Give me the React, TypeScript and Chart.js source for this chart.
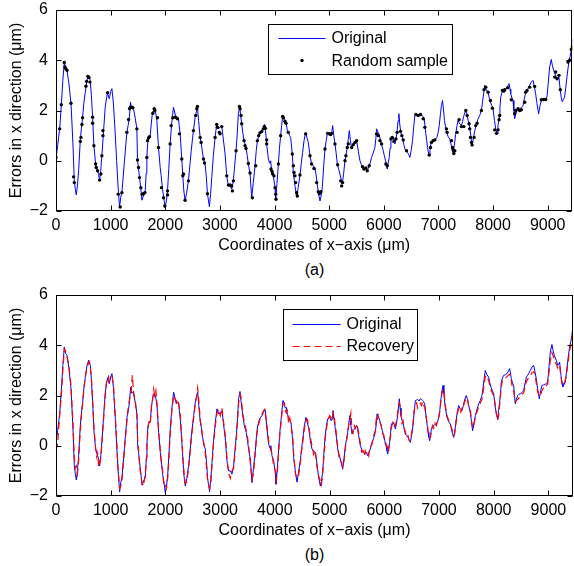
import React, { useEffect, useRef } from "react";
import { Chart, registerables } from "chart.js";

Chart.register(...registerables);

// ---------------- data ----------------
const X_ORIG = [
  0, 30, 67, 97, 125, 152, 176, 201, 235, 274,
  292, 310, 335, 352, 371, 392, 414, 444, 465, 487,
  510, 536, 566, 597, 612, 627, 648, 670, 694, 725,
  745, 761, 780, 798, 818, 840, 871, 901, 925, 944,
  960, 974, 1000, 1023, 1050, 1084, 1110, 1135, 1163, 1185,
  1206, 1250, 1297, 1320, 1340, 1364, 1380, 1395, 1420, 1450,
  1480, 1492, 1510, 1529, 1553, 1572, 1600, 1632, 1650, 1663,
  1681, 1700, 1724, 1745, 1766, 1785, 1803, 1825, 1846, 1876,
  1907, 1925, 1949, 1975, 1998, 2020, 2041, 2065, 2089, 2114,
  2150, 2175, 2199, 2220, 2242, 2255, 2272, 2302, 2321, 2340,
  2363, 2390, 2424, 2450, 2475, 2500, 2516, 2546, 2570, 2589,
  2610, 2638, 2656, 2680, 2699, 2729, 2750, 2772, 2808, 2830,
  2851, 2880, 2912, 2942, 2973, 3003, 3034, 3060, 3095, 3125,
  3155, 3186, 3216, 3247, 3270, 3296, 3318, 3338, 3363, 3380,
  3399, 3420, 3442, 3478, 3500, 3521, 3552, 3582, 3610, 3643,
  3665, 3686, 3722, 3765, 3795, 3815, 3826, 3856, 3887, 3910,
  3929, 3948, 3978, 4009, 4021, 4045, 4070, 4090, 4112, 4130,
  4149, 4173, 4190, 4210, 4230, 4252, 4275, 4295, 4325, 4344,
  4374, 4405, 4430, 4465, 4490, 4514, 4540, 4569, 4595, 4618,
  4649, 4679, 4710, 4740, 4759, 4780, 4801, 4832, 4852, 4874,
  4900, 4923, 4945, 4966, 5002, 5030, 5045, 5063, 5085, 5106,
  5128, 5149, 5175, 5197, 5220, 5240, 5265, 5289, 5310, 5331,
  5350, 5368, 5390, 5411, 5430, 5453, 5475, 5502, 5532, 5563,
  5590, 5612, 5634, 5654, 5675, 5697, 5715, 5733, 5755, 5776,
  5805, 5837, 5855, 5868, 5890, 5910, 5941, 5965, 5989, 6010,
  6032, 6050, 6063, 6080, 6099, 6115, 6130, 6150, 6172, 6203,
  6225, 6245, 6262, 6276, 6290, 6306, 6325, 6343, 6365, 6385,
  6410, 6434, 6455, 6477, 6500, 6526, 6545, 6568, 6590, 6611,
  6635, 6660, 6680, 6702, 6720, 6739, 6769, 6785, 6800, 6815,
  6830, 6845, 6861, 6880, 6903, 6925, 6952, 6975, 6995, 7015,
  7037, 7055, 7074, 7090, 7110, 7147, 7180, 7208, 7225, 7245,
  7269, 7290, 7315, 7340, 7360, 7380, 7400, 7421, 7440, 7460,
  7480, 7500, 7520, 7545, 7573, 7595, 7616, 7640, 7665, 7695,
  7725, 7755, 7786, 7805, 7825, 7847, 7870, 7908, 7930, 7951,
  7975, 8000, 8025, 8048, 8073, 8090, 8109, 8125, 8140, 8160,
  8182, 8210, 8243, 8265, 8292, 8310, 8323, 8345, 8365, 8380,
  8395, 8415, 8438, 8460, 8487, 8520, 8548, 8575, 8597, 8620,
  8639, 8670, 8700, 8731, 8755, 8779, 8804, 8834, 8860, 8883,
  8910, 8944, 8965, 8986, 9010, 9035, 9065, 9085, 9108, 9125,
  9145, 9169, 9188, 9205, 9230, 9250, 9266, 9290, 9309, 9330,
  9352, 9370, 9388, 9410, 9431, 9450,
];

const Y_ORIG = [
  0.1, 0.6, 1.27, 2.2, 3.2, 3.93, 3.67, 3.6, 3.1, 2.29,
  1.5, 0.67, -0.8, -1.1, -1.36, -1.0, -0.4, 0.8, 1.3, 1.73,
  2.3, 2.73, 3.2, 3.4, 3.3, 3.2, 2.6, 1.73, 0.6, -0.13,
  -0.3, -0.4, -0.55, -0.8, -0.4, 0.2, 1.2, 2.13, 2.5, 2.71,
  2.55, 2.47, 2.75, 2.87, 2.3, 1.07, 0.0, -1.0, -1.84, -1.45,
  -1.27, -0.1, 1.13, 1.4, 1.67, 2.33, 2.1, 2.13, 2.05, 1.7,
  1.27, 0.03, -0.3, -0.67, -1.13, -1.57, -1.4, -1.27, -0.5, 0.13,
  0.8, 0.9, 1.0, 1.5, 1.93, 2.0, 2.11, 1.9, 1.6, 0.53,
  -0.27, -0.6, -1.13, -1.5, -1.87, -1.6, -1.2, -0.3, 0.67, 1.4,
  2.13, 1.9, 1.67, 1.75, 1.67, 1.4, 1.07, 0.07, -0.6, -1.2,
  -1.6, -1.3, -0.8, -0.2, 0.4, 0.9, 1.2, 1.73, 1.95, 2.13,
  1.6, 0.93, 0.73, 0.35, 0.07, -0.13, -0.6, -1.31, -1.83, -1.3,
  -0.67, 0.2, 0.93, 1.47, 1.27, 1.33, 1.4, 0.9, 0.27, -0.6,
  -1.0, -1.0, -1.13, -0.8, -0.2, 0.4, 1.1, 1.87, 2.16, 1.8,
  1.47, 1.1, 0.8, 0.53, 0.2, -0.13, -0.53, -1.47, -0.9, -0.2,
  0.4, 0.8, 1.07, 1.2, 1.33, 1.45, 1.4, 0.67, 0.07, -0.1,
  0.0, -0.4, -0.6, -1.07, -1.53, -0.9, -0.13, 0.5, 1.0, 1.4,
  1.8, 1.67, 1.5, 1.53, 1.25, 1.13, 1.0, 0.93, 0.27, -0.47,
  -1.0, -1.45, -1.1, -0.6, -0.1, 0.33, 0.8, 1.13, 0.9, 0.73,
  0.2, -0.13, -0.2, -0.3, -0.53, -0.9, -1.27, -1.6, -1.4, -1.07,
  -0.2, 0.47, 0.8, 1.07, 1.13, 1.0, 1.07, 1.4, 1.0, 0.67,
  0.3, -0.13, -0.35, -0.53, -0.75, -0.93, -0.5, 0.0, 0.25, 0.53,
  0.85, 1.2, 0.8, 0.47, 0.6, 0.67, 0.75, 0.8, 0.4, 0.0,
  -0.15, -0.27, -0.3, -0.33, -0.25, -0.4, -0.3, -0.2, -0.05, 0.13,
  0.3, 0.53, 0.9, 1.27, 1.15, 1.07, 0.8, 0.6, 0.4, 0.2,
  0.0, -0.2, -0.33, -0.1, 0.13, 0.5, 0.87, 0.85, 0.93, 0.67,
  0.9, 1.2, 1.6, 1.87, 1.5, 1.2, 1.0, 0.93, 0.65, 0.47,
  0.4, 0.33, 0.25, 0.13, 0.4, 0.8, 1.3, 1.8, 1.82, 1.84,
  1.78, 1.87, 1.85, 1.8, 1.75, 1.67, 1.07, 0.8, 0.53, 0.35,
  0.2, 0.4, 0.67, 0.72, 0.8, 0.85, 0.87, 0.95, 1.13, 1.4,
  1.87, 2.2, 2.4, 2.1, 1.6, 1.13, 0.95, 0.87, 0.7, 0.5,
  0.33, 0.6, 1.05, 1.4, 1.6, 1.5, 1.45, 1.4, 1.55, 1.75,
  1.9, 2.0, 1.85, 1.6, 1.33, 0.95, 0.6, 0.9, 1.2, 1.45,
  1.67, 1.8, 2.0, 2.3, 2.65, 3.0, 2.85, 2.73, 2.5, 2.33,
  2.2, 2.07, 1.6, 1.27, 1.07, 1.4, 1.73, 2.1, 2.53, 2.7,
  2.8, 2.82, 2.87, 2.95, 3.07, 2.85, 2.67, 2.5, 2.4, 2.0,
  1.67, 1.85, 2.0, 2.05, 2.07, 2.12, 2.2, 2.5, 2.73, 2.8,
  2.87, 3.0, 3.13, 3.2, 2.95, 2.67, 2.27, 1.87, 2.2, 2.4,
  2.42, 2.44, 2.5, 2.53, 3.1, 3.73, 4.03, 3.8, 3.6, 3.5,
  3.4, 3.2, 3.25, 3.33, 2.8, 2.5, 2.35, 2.45, 2.53, 2.9,
  3.33, 3.65, 3.93, 4.15, 4.4, 4.85,
];

const Y_RECOVERY = [
  -0.2, 0.1, 1.2, 2.0, 3.0, 3.85, 3.75, 3.55, 3.2, 2.4,
  1.6, 0.9, -0.5, -0.9, -0.8, -1.1, -0.6, 0.6, 1.2, 1.7,
  2.25, 2.75, 3.1, 3.3, 3.35, 3.1, 2.7, 1.8, 0.7, -0.1,
  -0.45, -0.3, -0.85, -0.7, -0.5, 0.1, 1.1, 2.0, 2.6, 2.65,
  2.75, 2.55, 2.7, 2.75, 2.45, 1.2, 0.15, -0.9, -1.7, -1.6,
  -1.35, -0.2, 1.0, 1.5, 1.8, 2.1, 2.3, 2.8, 2.1, 1.8,
  1.1, 0.3, -0.2, -0.8, -1.25, -1.45, -1.6, -1.1, -0.7, 0.0,
  0.65, 1.0, 0.9, 1.6, 1.8, 2.25, 2.0, 2.2, 1.7, 0.6,
  -0.2, -0.7, -1.0, -1.6, -1.55, -1.7, -1.3, -0.45, 0.5, 1.3,
  2.0, 1.85, 1.8, 1.6, 1.7, 1.5, 1.2, 0.2, -0.5, -1.1,
  -1.5, -1.45, -0.9, -0.35, 0.3, 0.8, 1.1, 1.65, 2.0, 2.3,
  1.8, 1.0, 0.8, 0.3, 0.15, -0.3, -0.8, -1.4, -1.7, -1.5,
  -0.8, 0.1, 0.8, 1.3, 1.45, 1.2, 1.5, 1.0, 0.4, -0.5,
  -1.1, -1.3, -1.0, -0.9, -0.3, 0.3, 1.0, 1.7, 2.05, 1.95,
  1.6, 1.2, 0.95, 0.6, 0.35, 0.0, -0.7, -1.35, -1.1, -0.3,
  0.3, 0.7, 1.0, 1.25, 1.4, 1.45, 1.3, 0.8, 0.2, 0.0,
  -0.2, -0.3, -0.8, -1.0, -1.4, -1.1, -0.25, 0.4, 0.9, 1.3,
  1.65, 1.7, 1.4, 1.3, 1.4, 0.9, 1.1, 0.8, 0.4, -0.3,
  -1.1, -1.3, -1.25, -0.7, -0.2, 0.2, 0.7, 1.0, 1.05, 0.8,
  0.35, 0.0, -0.35, -0.2, -0.6, -1.0, -1.2, -1.4, -1.55, -1.1,
  -0.35, 0.3, 0.7, 1.0, 1.2, 1.1, 1.0, 1.3, 1.15, 0.8,
  0.4, -0.05, -0.5, -0.6, -0.65, -0.85, -0.6, -0.1, 0.2, 0.45,
  0.8, 1.0, 1.3, 0.6, 0.5, 0.8, 0.7, 0.85, 0.5, 0.1,
  -0.25, -0.2, -0.4, -0.2, -0.35, -0.3, -0.4, -0.1, 0.0, 0.05,
  0.4, 0.6, 1.1, 1.0, 1.2, 0.95, 0.85, 0.5, 0.45, 0.1,
  0.1, -0.1, -0.25, -0.2, 0.2, 0.4, 0.7, 0.9, 0.75, 0.8,
  1.0, 1.3, 1.55, 1.7, 1.6, 1.3, 0.9, 1.0, 0.7, 0.55,
  0.35, 0.4, 0.2, 0.2, 0.5, 0.9, 1.4, 1.6, 1.7, 1.5,
  1.6, 1.7, 1.6, 1.75, 1.6, 1.55, 1.1, 0.9, 0.6, 0.4,
  0.3, 0.35, 0.6, 0.8, 0.7, 0.9, 0.8, 1.0, 1.1, 1.35,
  1.8, 2.1, 2.25, 2.15, 1.7, 1.2, 1.0, 0.8, 0.75, 0.6,
  0.4, 0.5, 0.95, 1.3, 1.5, 1.55, 1.35, 1.5, 1.45, 1.7,
  1.8, 1.9, 1.9, 1.5, 1.4, 1.0, 0.7, 0.85, 1.15, 1.35,
  1.55, 1.7, 1.85, 2.1, 2.4, 2.75, 2.8, 2.6, 2.4, 2.25,
  2.1, 2.0, 1.7, 1.3, 1.0, 1.2, 1.6, 2.0, 2.35, 2.6,
  2.65, 2.7, 2.75, 2.8, 2.85, 2.75, 2.55, 2.3, 2.2, 1.95,
  1.75, 1.8, 1.85, 1.9, 1.95, 2.05, 2.1, 2.35, 2.55, 2.65,
  2.7, 2.8, 2.9, 2.95, 2.8, 2.5, 2.15, 1.95, 2.05, 2.2,
  2.3, 2.3, 2.4, 2.45, 2.9, 3.4, 3.7, 3.6, 3.45, 3.3,
  3.25, 3.1, 3.2, 3.2, 2.75, 2.45, 2.4, 2.5, 2.6, 2.8,
  3.2, 3.5, 3.8, 4.0, 4.3, 4.6,
];

const SAMPLE_X = [
  0, 67, 97, 152, 164, 176, 201, 274, 322, 335,
  444, 457, 475, 487, 548, 560, 584, 603, 621, 670,
  670, 694, 725, 737, 761, 798, 822, 840, 859, 859,
  944, 1139, 1175, 1206, 1297, 1328, 1346, 1364, 1389, 1407,
  1480, 1492, 1511, 1529, 1553, 1578, 1602, 1626, 1663, 1675,
  1693, 1712, 1773, 1797, 1809, 1858, 1876, 1931, 1968, 1992,
  2041, 2041, 2089, 2108, 2138, 2187, 2223, 2260, 2333,
  2302, 2321, 2363, 2424, 2516, 2558, 2577, 2589, 2638, 2656,
  2699, 2717, 2772, 2912, 2942, 2954, 2991, 3003, 3034, 3125,
  3155, 3186, 3216, 3229, 3247, 3296, 3357, 3369, 3387, 3399,
  3442, 3460, 3478, 3521, 3552, 3594, 3655, 3686, 3710, 3734,
  3765, 3795, 3814, 3832, 3856, 3856, 3935, 3954, 3966, 3990,
  4009, 4021, 4027, 4070, 4112, 4149, 4161, 4191, 4210, 4252,
  4325, 4344, 4356, 4374, 4386, 4405, 4417, 4465, 4569,
  4649, 4679, 4722, 4771, 4801, 4820, 4850, 4923, 4972, 5002,
  5027, 5045, 5106, 5155, 5210, 5228, 5246, 5289, 5307, 5331,
  5350, 5411, 5441, 5472, 5502, 5612, 5636, 5673, 5697, 5733,
  5868, 5898, 5929, 5959, 6038, 6063, 6130, 6154, 6185, 6221,
  6245, 6306, 6331, 6355, 6416, 6587, 6629, 6672, 6721, 6751,
  6830, 6855, 6873, 6903, 6934,
  7147, 7159, 7238, 7257, 7269, 7281, 7299, 7342, 7378, 7421,
  7464, 7500, 7525, 7561, 7573, 7586, 7604, 7616, 7653, 7683,
  7707, 7786, 7835, 7866, 7908, 7951, 7988, 8030, 8061, 8091,
  8109, 8122, 8170, 8195, 8213, 8268, 8335, 8395, 8414, 8457,
  8487, 8518, 8579, 8597, 8621, 8670, 8761, 8883, 8926, 8963,
  9127, 9145, 9170, 9206, 9231, 9371, 9401, 9431, 9450,
];

const SAMPLE_Y = [
  0.13, 1.27, 2.23, 3.91, 3.73, 3.67, 3.6, 2.29, -0.64, -0.87,
  0.77, 0.93, 1.44, 1.71, 2.97, 3.16, 3.36, 3.31, 3.13, 1.73,
  1.49, 0.6, -0.13, -0.27, -0.4, -0.77, -0.53, 0.2, 1.0, 1.2,
  2.71, -1.33, -1.84, -1.27, 1.13, 1.64, 2.07, 2.13, 2.13, 2.11,
  1.27, 0.03, -0.27, -0.67, -1.07, -1.33, -1.31, -1.27, 0.13, 0.8,
  0.91, 0.96, 1.89, 2.07, 2.0, 1.71, 0.53, -1.07, -1.47, -1.8,
  -1.36, -1.2, 0.67, 1.4, 1.71, 1.73, 1.67, 1.07, -0.53,
  0.07, -0.6, -1.57, -0.8, 1.2, 1.8, 2.07, 2.16, 0.93, 0.73,
  0.07, -0.09, -1.31, 0.93, 1.44, 1.33, 1.13, 1.07, 1.36, -0.6,
  -0.97, -0.96, -1.0, -1.2, -0.8, 0.4, 2.16, 2.07, 1.8, 1.47,
  0.8, 0.6, 0.49, -0.11, -0.49, -1.47, -0.2, 0.8, 1.0, 1.11,
  1.16, 1.27, 1.36, 1.29, 0.83, 0.67, -0.33, -0.43, -0.53, -0.6,
  -1.07, -1.33, -1.53, -0.13, 1.0, 1.76, 1.71, 1.57, 1.49, 1.13,
  0.27, -0.2, -0.47, -0.6, -0.87, -1.27, -1.4, -0.57, 1.07,
  0.2, -0.13, -0.31, -0.87, -1.23, -1.31, -1.23, 0.47, 1.09, 1.07,
  1.04, 1.09, 0.67, -0.16, -0.8, -1.0, -0.87, 0.0, 0.2, 0.53,
  0.67, 0.53, 0.64, 0.73, 0.8, -0.24, -0.33, -0.29, -0.4, -0.2,
  1.07, 1.0, 0.8, 0.67, -0.13, -0.2, 0.87, 0.93, 0.77, 0.87,
  1.13, 1.17, 1.0, 0.83, 0.4, 1.84, 1.8, 1.84, 1.67, 1.33,
  0.23, 0.53, 0.73, 0.8, 0.83,
  1.27, 1.13, 0.8, 0.53, 0.43, 0.29, 0.4, 1.13, 1.63, 1.36,
  1.36, 2.0, 1.8, 1.47, 1.27, 0.93, 0.73, 0.63, 0.93, 1.4,
  1.49, 2.0, 2.83, 2.93, 2.73, 2.4, 2.09, 1.23, 1.09, 1.23,
  1.63, 1.8, 2.8, 2.77, 2.83, 2.91, 2.43, 1.87, 2.0, 2.07,
  2.0, 2.03, 2.33, 2.73, 2.8, 2.93, 2.96, 2.43, 2.44, 2.44,
  3.33, 3.53, 3.27, 3.4, 2.83, 3.93, 4.0, 4.43, 4.53,
];

const X_TICKS = [0, 1000, 2000, 3000, 4000, 5000, 6000, 7000, 8000, 9000];
const Y_TICKS = [-2, 0, 2, 4, 6];
const X_MIN = 0;
const X_MAX = 9450;
const Y_MIN = -2;
const Y_MAX = 6;

const X_TITLE = "Coordinates of x\u2212axis (\u03bcm)";
const Y_TITLE = "Errors in x direction (\u03bcm)";

// ---------------- styling ----------------
const FONT = '"Liberation Sans", Arial, Helvetica, sans-serif';
const FS = 16;
const CW = 574;
const CH = 258;

const fmt = (v: number) => (v < 0 ? "\u2212" + Math.abs(v) : String(v));

const matlabPlugin = {
  id: "matlab",
  afterDatasetsDraw(chart: any) {
    const { ctx, chartArea: a, scales } = chart;
    const opts = chart.options.plugins.matlab || {};
    ctx.save();
    ctx.strokeStyle = "#000";
    ctx.lineWidth = 1;
    ctx.setLineDash([]);
    const L = 5;
    const left = Math.round(a.left) + 0.5;
    const right = Math.round(a.right) - 0.5;
    const top = Math.round(a.top) + 0.5;
    const bottom = Math.round(a.bottom) - 0.5;
    ctx.beginPath();
    for (const t of X_TICKS) {
      const px = Math.round(scales.x.getPixelForValue(t)) + 0.5;
      ctx.moveTo(px, bottom);
      ctx.lineTo(px, bottom - L);
      ctx.moveTo(px, top);
      ctx.lineTo(px, top + L);
    }
    for (const t of Y_TICKS) {
      const py = Math.round(scales.y.getPixelForValue(t)) + 0.5;
      ctx.moveTo(left, py);
      ctx.lineTo(left + L, py);
      ctx.moveTo(right, py);
      ctx.lineTo(right - L, py);
    }
    ctx.stroke();
    ctx.strokeRect(left, top, right - left, bottom - top);

    // legend
    const lg = opts.legend;
    if (lg) {
      const bx = Math.round(a.left + lg.dx) + 0.5;
      const by = Math.round(a.top + lg.dy) + 0.5;
      ctx.fillStyle = "#fff";
      ctx.fillRect(bx, by, lg.w, lg.h);
      ctx.strokeStyle = "#000";
      ctx.lineWidth = 1;
      ctx.strokeRect(bx, by, lg.w, lg.h);
      ctx.font = `${FS}px ${FONT}`;
      ctx.textBaseline = "middle";
      ctx.textAlign = "left";
      lg.items.forEach((it: any, i: number) => {
        const ds = chart.data.datasets[it.index];
        const y = by + lg.rows[i];
        if (it.kind === "line") {
          ctx.save();
          ctx.strokeStyle = ds.borderColor;
          ctx.lineWidth = ds.borderWidth;
          ctx.setLineDash(ds.borderDash || []);
          ctx.beginPath();
          ctx.moveTo(bx + lg.lineFrom, Math.round(y) + 0.5);
          ctx.lineTo(bx + lg.lineTo, Math.round(y) + 0.5);
          ctx.stroke();
          ctx.restore();
        } else {
          ctx.fillStyle = ds.pointBackgroundColor;
          ctx.beginPath();
          ctx.arc(bx + (lg.lineFrom + lg.lineTo) / 2, y, ds.pointRadius, 0, Math.PI * 2);
          ctx.fill();
        }
        ctx.fillStyle = "#000";
        ctx.fillText(ds.label, bx + lg.textX, y + 1);
      });
    }
    ctx.restore();
  },
};

function makeConfig(datasets: any[], legend: any) {
  const tickFont = { family: FONT, size: FS };
  return {
    type: "line",
    data: { datasets },
    plugins: [matlabPlugin],
    options: {
      animation: false,
      responsive: false,
      devicePixelRatio: 1,
      events: [],
      layout: { padding: { top: 10, right: 1, left: 0, bottom: 0 } },
      plugins: {
        legend: { display: false },
        tooltip: { enabled: false },
        matlab: { legend },
      },
      scales: {
        x: {
          type: "linear",
          min: X_MIN,
          max: X_MAX,
          afterBuildTicks: (s: any) => {
            s.ticks = X_TICKS.map((v) => ({ value: v }));
          },
          afterFit: (s: any) => {
            s.height = 47;
            s.paddingLeft = 0;
            s.paddingRight = 0;
            s.paddingTop = 0;
            s.paddingBottom = 0;
          },
          grid: { display: false, drawTicks: false },
          border: { display: false },
          ticks: {
            color: "#000",
            font: tickFont,
            padding: 5,
            maxRotation: 0,
            autoSkip: false,
            callback: (v: any) => fmt(Number(v)),
          },
          title: {
            display: true,
            text: X_TITLE,
            color: "#000",
            font: tickFont,
            padding: { top: 0, bottom: 3 },
          },
        },
        y: {
          type: "linear",
          min: Y_MIN,
          max: Y_MAX,
          afterBuildTicks: (s: any) => {
            s.ticks = Y_TICKS.map((v) => ({ value: v }));
          },
          afterFit: (s: any) => {
            s.width = 56;
            s.paddingLeft = 0;
            s.paddingRight = 0;
            s.paddingTop = 0;
            s.paddingBottom = 0;
          },
          grid: { display: false, drawTicks: false },
          border: { display: false },
          ticks: {
            color: "#000",
            font: tickFont,
            padding: 8,
            autoSkip: false,
            callback: (v: any) => fmt(Number(v)),
          },
          title: {
            display: true,
            text: Y_TITLE,
            color: "#000",
            font: tickFont,
            padding: { top: 7, bottom: 0 },
          },
        },
      },
    },
  };
}

const origData = () => X_ORIG.map((x, i) => ({ x, y: Y_ORIG[i] }));

export default function App() {
  const topRef = useRef<HTMLCanvasElement | null>(null);
  const botRef = useRef<HTMLCanvasElement | null>(null);

  useEffect(() => {
    const blue = {
      label: "Original",
      data: origData(),
      borderColor: "#0000ff",
      backgroundColor: "#0000ff",
      borderWidth: 1,
      pointRadius: 0,
      pointHoverRadius: 0,
      tension: 0,
      order: 2,
    };
    const samples = {
      label: "Random sample",
      data: SAMPLE_X.map((x, i) => ({ x, y: SAMPLE_Y[i] })),
      showLine: false,
      borderColor: "#000",
      pointBackgroundColor: "#000",
      pointBorderWidth: 0,
      pointRadius: 1.7,
      pointHoverRadius: 1.7,
      order: 1,
    };
    const recovery = {
      label: "Recovery",
      data: X_ORIG.map((x, i) => ({ x, y: Y_RECOVERY[i] })),
      borderColor: "#ff0000",
      backgroundColor: "#ff0000",
      borderWidth: 1.2,
      borderDash: [7, 4],
      pointRadius: 0,
      pointHoverRadius: 0,
      tension: 0,
      order: 1,
    };

    const topLegend = {
      dx: 212, dy: 14, w: 184, h: 50,
      lineFrom: 10, lineTo: 57, textX: 63, rows: [13, 36],
      items: [
        { index: 0, kind: "line" },
        { index: 1, kind: "marker" },
      ],
    };
    const botLegend = {
      dx: 227, dy: 14, w: 134, h: 51,
      lineFrom: 9, lineTo: 57, textX: 63, rows: [14, 36],
      items: [
        { index: 0, kind: "line" },
        { index: 1, kind: "line" },
      ],
    };

    const c1 = new Chart(topRef.current as any, makeConfig([blue, samples], topLegend) as any);
    const c2 = new Chart(
      botRef.current as any,
      makeConfig([{ ...blue, data: origData() }, recovery], botLegend) as any
    );
    return () => {
      c1.destroy();
      c2.destroy();
    };
  }, []);

  const capStyle: React.CSSProperties = {
    position: "absolute",
    left: 56,
    width: 517,
    textAlign: "center",
    fontFamily: FONT,
    fontSize: FS,
    lineHeight: "20px",
    color: "#000",
  };

  return (
    <div
      style={{
        position: "absolute",
        left: 0,
        top: 0,
        width: CW,
        height: 566,
        background: "#fff",
        overflow: "hidden",
      }}
    >
      <canvas
        ref={topRef}
        width={CW}
        height={CH}
        style={{ position: "absolute", left: 0, top: 0, width: CW, height: CH, display: "block" }}
      />
      <div style={{ ...capStyle, top: 260 }}>(a)</div>
      <canvas
        ref={botRef}
        width={CW}
        height={CH}
        style={{ position: "absolute", left: 0, top: 285, width: CW, height: CH, display: "block" }}
      />
      <div style={{ ...capStyle, top: 545 }}>(b)</div>
    </div>
  );
}
